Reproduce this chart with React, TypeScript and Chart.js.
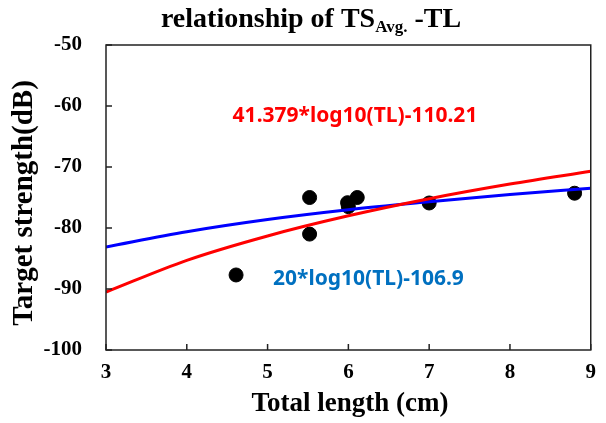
import React, { useEffect, useRef } from "react";
import { Chart, registerables } from "chart.js";

Chart.register(...registerables);

// Measured samples (Total length cm, Target strength dB)
const tlValues = [4.61, 5.52, 5.52, 5.99, 6.0, 6.11, 7.0, 8.8];
const tsValues = [-87.7, -75.0, -81.0, -75.85, -76.5, -75.0, -75.9, -74.3];

// Fitted curves at whole-cm positions
const fitX = [3, 4, 5, 6, 7, 8, 9];
const redFit = [-90.5, -85.3, -81.3, -78.0, -75.2, -72.8, -70.7];
const blueFit = [-83.1, -80.6, -78.6, -77.0, -75.7, -74.5, -73.5];

const xTicks = [3, 4, 5, 6, 7, 8, 9];
const yTicks = [-100, -90, -80, -70, -60, -50];

const redLabel = "41.379*log10(TL)-110.21";
const blueLabel = "20*log10(TL)-106.9";

const SERIF = "'Liberation Serif', 'Times New Roman', serif";
const SANS = "'Noto Sans', 'Open Sans', sans-serif";

const overlay = {
  id: "overlay",
  afterDraw(chart: any) {
    const ctx = chart.ctx as CanvasRenderingContext2D;
    const { left, right, top, bottom } = chart.chartArea;
    const xs = chart.scales.x;
    const ys = chart.scales.y;
    ctx.save();
    // frame
    ctx.strokeStyle = "#222";
    ctx.lineWidth = 1.5;
    ctx.strokeRect(left, top, right - left, bottom - top);
    // inward ticks
    ctx.beginPath();
    xTicks.forEach((v) => {
      const px = xs.getPixelForValue(v);
      ctx.moveTo(px, bottom);
      ctx.lineTo(px, bottom - 6);
    });
    yTicks.forEach((v) => {
      const py = ys.getPixelForValue(v);
      ctx.moveTo(left, py);
      ctx.lineTo(left + 6, py);
    });
    ctx.stroke();

    // title with subscript
    const big = `bold 28px ${SERIF}`;
    const small = `bold 17px ${SERIF}`;
    const p1 = "relationship of TS";
    const p2 = "Avg.";
    const p3 = " -TL";
    ctx.font = big;
    const w1 = ctx.measureText(p1).width;
    const w3 = ctx.measureText(p3).width;
    ctx.font = small;
    const w2 = ctx.measureText(p2).width;
    const total = w1 + w2 + w3;
    let tx = 311 - total / 2;
    const baseY = 27;
    ctx.fillStyle = "#000";
    ctx.textBaseline = "alphabetic";
    ctx.textAlign = "left";
    ctx.font = big;
    ctx.fillText(p1, tx, baseY);
    tx += w1;
    ctx.font = small;
    ctx.fillText(p2, tx, baseY + 5);
    tx += w2;
    ctx.font = big;
    ctx.fillText(p3, tx, baseY);

    // axis titles
    ctx.font = `bold 27px ${SERIF}`;
    ctx.textAlign = "center";
    ctx.textBaseline = "middle";
    ctx.fillText("Total length (cm)", 350, 404);
    ctx.save();
    ctx.translate(25, 203);
    ctx.rotate(-Math.PI / 2);
    ctx.font = `bold 29px ${SERIF}`;
    ctx.fillText("Target strength(dB)", 0, 0);
    ctx.restore();

    // equation labels
    ctx.font = `bold 21px ${SANS}`;
    ctx.textAlign = "center";
    ctx.textBaseline = "middle";
    ctx.fillStyle = "#ff0000";
    ctx.fillText(redLabel, 355, 116);
    ctx.textAlign = "left";
    ctx.fillStyle = "#0070c0";
    ctx.fillText(blueLabel, 273, 279);
    ctx.restore();
  },
};

export default function App() {
  const ref = useRef<HTMLCanvasElement>(null);
  useEffect(() => {
    document.body.style.margin = "0";
    const canvas = ref.current!;
    const chart = new Chart(canvas, {
      type: "scatter",
      data: {
        datasets: [
          {
            type: "line",
            label: "red fit",
            data: fitX.map((x, i) => ({ x, y: redFit[i] })),
            borderColor: "#ff0000",
            borderWidth: 3,
            pointRadius: 0,
            cubicInterpolationMode: "monotone",
            fill: false,
            order: 1,
          } as any,
          {
            type: "line",
            label: "blue fit",
            data: fitX.map((x, i) => ({ x, y: blueFit[i] })),
            borderColor: "#0000ff",
            borderWidth: 3,
            pointRadius: 0,
            cubicInterpolationMode: "monotone",
            fill: false,
            order: 2,
          } as any,
          {
            type: "scatter",
            label: "TS",
            data: tlValues.map((x, i) => ({ x, y: tsValues[i] })),
            backgroundColor: "#000",
            borderColor: "#000",
            pointRadius: 7,
            order: 3,
          },
        ],
      },
      options: {
        responsive: false,
        animation: false,
        layout: { padding: { top: 45, right: 9, left: 0, bottom: 0 } },
        plugins: {
          legend: { display: false },
          tooltip: { enabled: false },
          title: { display: false },
        },
        scales: {
          x: {
            type: "linear",
            min: 3,
            max: 9,
            afterFit: (s: any) => {
              s.height = 73;
            },
            grid: { display: false, drawTicks: false },
            border: { display: false },
            ticks: {
              stepSize: 1,
              padding: 10,
              color: "#000",
              font: { family: SERIF, size: 21, weight: "bold" },
            },
          },
          y: {
            type: "linear",
            min: -100,
            max: -50,
            afterFit: (s: any) => {
              s.width = 106;
            },
            grid: { display: false, drawTicks: false },
            border: { display: false },
            ticks: {
              stepSize: 10,
              padding: 24,
              color: "#000",
              font: { family: SERIF, size: 21, weight: "bold" },
            },
          },
        },
      },
      plugins: [overlay],
    });
    return () => chart.destroy();
  }, []);
  return (
    <div style={{ width: 606, height: 423 }}>
      <canvas ref={ref} width={606} height={423} />
    </div>
  );
}
